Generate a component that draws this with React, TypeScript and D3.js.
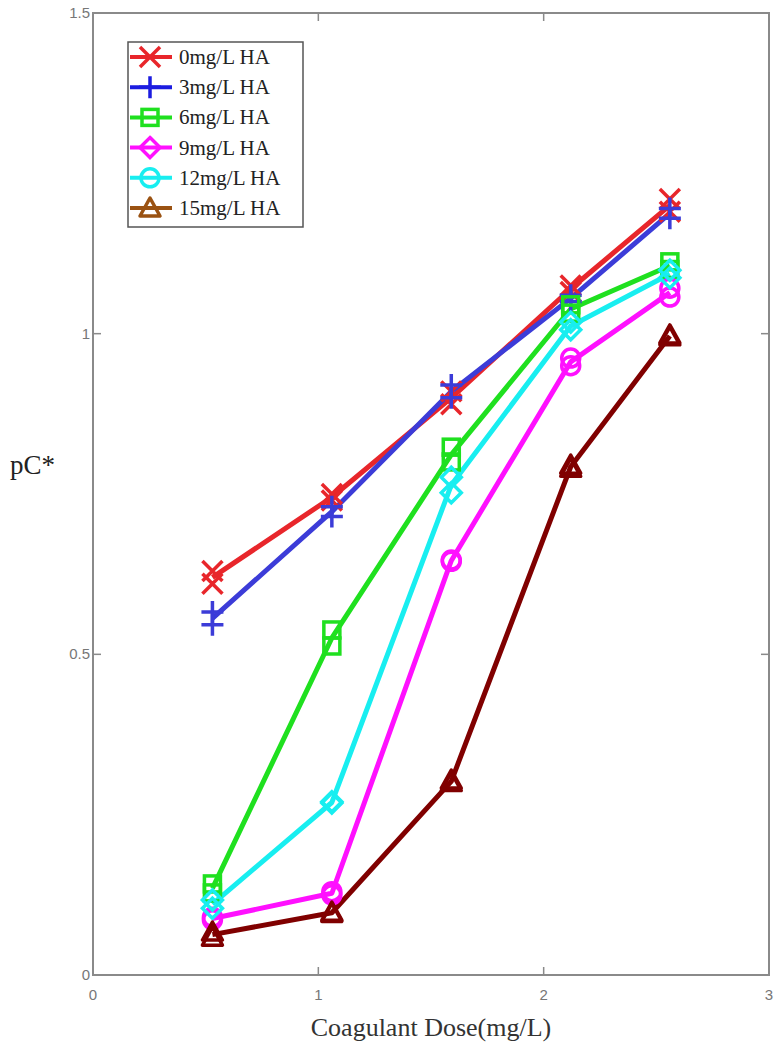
import React from "react";
import * as d3 from "d3";

const doses = [0.53, 1.06, 1.59, 2.12, 2.56];
const seriesNames = ["0mg/L HA", "3mg/L HA", "6mg/L HA", "9mg/L HA", "12mg/L HA", "15mg/L HA"];
const ha0a = [0.63, 0.75, 0.91, 1.075, 1.21];
const ha0b = [0.61, 0.74, 0.89, 1.065, 1.19];
const ha3a = [0.566, 0.73, 0.92, 1.06, 1.195];
const ha3b = [0.546, 0.715, 0.9, 1.05, 1.18];
const ha6a = [0.142, 0.538, 0.823, 1.045, 1.112];
const ha6b = [0.128, 0.513, 0.8, 1.032, 1.1];
const ha9a = [0.09, 0.13, 0.647, 0.962, 1.071];
const ha9b = [0.086, 0.125, 0.645, 0.95, 1.057];
const ha12a = [0.117, 0.268, 0.776, 1.018, 1.099];
const ha12b = [0.104, 0.27, 0.752, 1.006, 1.087];
const ha15a = [0.067, 0.098, 0.304, 0.795, 0.998];
const ha15b = [0.059, 0.096, 0.3, 0.79, 0.995];
const xTicks = [0, 1, 2, 3];
const yTicks = [0, 0.5, 1, 1.5];
const yTickLabels = ["0", "0.5", "1", "1.5"];

const lineColors = ["#e8262b", "#3c3cd8", "#1fe01f", "#ff10ff", "#18eef0", "#800000"];
const legendColors = ["#e8262b", "#1c1ce0", "#1fe01f", "#ff10ff", "#18eef0", "#9a5212"];
const plotMarkers = ["x", "plus", "square", "circle", "diamond", "triangle"];
const legendMarkers = ["x", "plus", "square", "diamond", "circle", "triangle"];

const valuesA = [ha0a, ha3a, ha6a, ha9a, ha12a, ha15a];
const valuesB = [ha0b, ha3b, ha6b, ha9b, ha12b, ha15b];

function Marker({ type, x, y, color, sw = 3.5 }: { type: string; x: number; y: number; color: string; sw?: number }) {
  const common = { fill: "none", stroke: color, strokeWidth: sw };
  if (type === "x") {
    const s = 10;
    return <path d={`M${x - s},${y - s}L${x + s},${y + s}M${x - s},${y + s}L${x + s},${y - s}`} {...common} />;
  }
  if (type === "plus") {
    const s = 11;
    return <path d={`M${x - s},${y}L${x + s},${y}M${x},${y - s}L${x},${y + s}`} {...common} />;
  }
  if (type === "square") {
    const s = 8;
    return <rect x={x - s} y={y - s} width={2 * s} height={2 * s} {...common} />;
  }
  if (type === "circle") {
    return <circle cx={x} cy={y} r={9} {...common} />;
  }
  if (type === "diamond") {
    const s = 10;
    return <path d={`M${x},${y - s}L${x + s},${y}L${x},${y + s}L${x - s},${y}Z`} {...common} />;
  }
  const s = 10;
  return <path d={`M${x},${y - s}L${x + s},${y + 8}L${x - s},${y + 8}Z`} {...common} strokeLinejoin="round" />;
}

export default function App() {
  const W = 779;
  const H = 1046;
  const left = 93, right = 769, top = 13, bottom = 975;
  const x = d3.scaleLinear().domain([0, 3]).range([left, right]);
  const y = d3.scaleLinear().domain([0, 1.5]).range([bottom, top]);
  const line = d3
    .line<number>()
    .x((_, i) => x(doses[i]))
    .y((d) => y(d));
  const serif = "'Liberation Serif', 'Times New Roman', serif";
  const sans = "'Liberation Sans', Arial, sans-serif";
  const axisColor = "#8a8a8a";
  const tickLen = 8;

  const legX = 128, legY = 42, legW = 175, legH = 185, legStep = 30.2;

  return (
    <svg width={W} height={H} style={{ position: "absolute", left: 0, top: 0, background: "#fff" }} fontFamily={serif}>
      <rect x={0} y={0} width={W} height={H} fill="#fff" />
      {valuesA.map((vals, si) => {
        const mean = vals.map((v, i) => (v + valuesB[si][i]) / 2);
        return (
          <path key={"l" + si} d={line(mean) || ""} fill="none" stroke={lineColors[si]} strokeWidth={5} strokeLinejoin="round" />
        );
      })}
      {valuesA.map((vals, si) => (
        <g key={"m" + si}>
          {vals.map((v, i) => (
            <Marker key={"a" + i} type={plotMarkers[si]} x={x(doses[i])} y={y(v)} color={lineColors[si]} />
          ))}
          {valuesB[si].map((v, i) => (
            <Marker key={"b" + i} type={plotMarkers[si]} x={x(doses[i])} y={y(v)} color={lineColors[si]} />
          ))}
        </g>
      ))}
      <rect x={left} y={top} width={right - left} height={bottom - top} fill="none" stroke={axisColor} strokeWidth={2} />
      {xTicks.slice(1, -1).map((t) => (
        <g key={"xt" + t}>
          <line x1={x(t)} x2={x(t)} y1={bottom} y2={bottom - tickLen} stroke={axisColor} strokeWidth={1.5} />
          <line x1={x(t)} x2={x(t)} y1={top} y2={top + tickLen} stroke={axisColor} strokeWidth={1.5} />
        </g>
      ))}
      {yTicks.slice(1, -1).map((t) => (
        <g key={"yt" + t}>
          <line x1={left} x2={left + tickLen} y1={y(t)} y2={y(t)} stroke={axisColor} strokeWidth={1.5} />
          <line x1={right} x2={right - tickLen} y1={y(t)} y2={y(t)} stroke={axisColor} strokeWidth={1.5} />
        </g>
      ))}
      {xTicks.map((t) => (
        <text key={"xl" + t} x={x(t)} y={bottom + 25} textAnchor="middle" fontSize={15} fontFamily={sans} fill="#777">
          {t}
        </text>
      ))}
      {yTicks.map((t, i) => (
        <text key={"yl" + t} x={left - 3} y={y(t) + 5} textAnchor="end" fontSize={15} fontFamily={sans} fill="#777">
          {yTickLabels[i]}
        </text>
      ))}
      <text x={10} y={474} fontSize={27} fill="#222">pC*</text>
      <text x={431} y={1036} textAnchor="middle" fontSize={26} fill="#333">
        Coagulant Dose(mg/L)
      </text>
      <rect x={legX} y={legY} width={legW} height={legH} fill="#fff" stroke="#555" strokeWidth={1.5} />
      {seriesNames.map((name, i) => {
        const cy = legY + 15 + i * legStep;
        return (
          <g key={"lg" + i}>
            <line x1={legX + 2} x2={legX + 44} y1={cy} y2={cy} stroke={legendColors[i]} strokeWidth={4} />
            <Marker type={legendMarkers[i]} x={legX + 22} y={cy} color={legendColors[i]} />
            <text x={legX + 51} y={cy + 7} fontSize={21} fill="#222">
              {name}
            </text>
          </g>
        );
      })}
    </svg>
  );
}
